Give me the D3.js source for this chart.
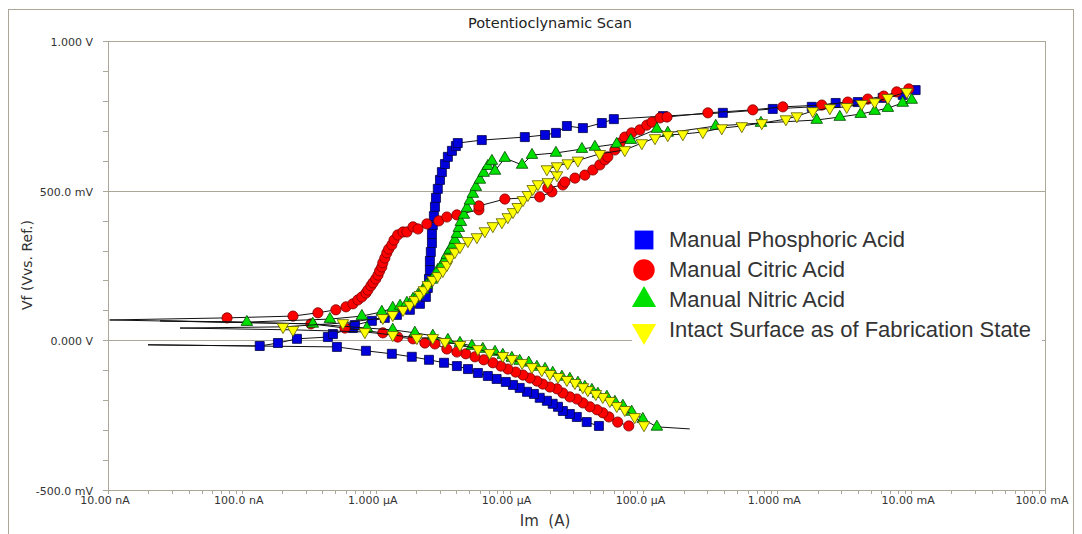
<!DOCTYPE html>
<html>
<head>
<meta charset="utf-8">
<script src="https://cdn.jsdelivr.net/npm/d3@7/dist/d3.min.js"></script>
<style>
  body { margin: 0; background: #fff; }
  svg { display: block; }
  .tick-label { font-family: "DejaVu Sans", sans-serif; font-size: 11px; fill: #333; }
  .legend-label { font-family: "Liberation Sans", Arial, sans-serif; font-size: 22px; fill: #333; }
</style>
</head>
<body>
<div class="chart"></div>
<script>
"use strict";

// Axis ticks
const potTicks = [1, 0.5, 0, -0.5];
const potLabels = ["1.000 V", "500.0 mV", "0.000 V", "-500.0 mV"];
const curTicks = [1e-8, 1e-7, 1e-6, 1e-5, 1e-4, 1e-3, 1e-2, 1e-1];
const curLabels = ["10.00 nA", "100.0 nA", "1.000 µA", "10.00 µA", "100.0 µA", "1.000 mA", "10.00 mA", "100.0 mA"];

const seriesNames = ["Manual Phosphoric Acid", "Manual Citric Acid", "Manual Nitric Acid", "Intact Surface as of Fabrication State"];

// [current (A), potential (V)]
const phosphoricCathodic = [
  [4.65e-5,-0.286],[3.77e-5,-0.273],[3.18e-5,-0.256],[2.82e-5,-0.246],[2.5e-5,-0.236],[2.3e-5,-0.222],
  [2.1e-5,-0.212],[1.9e-5,-0.202],[1.68e-5,-0.192],[1.52e-5,-0.179],[1.35e-5,-0.172],[1.19e-5,-0.159],
  [1.06e-5,-0.149],[9.37e-6,-0.139],[8.0e-6,-0.129],[6.88e-6,-0.119],[5.8e-6,-0.109],[4.89e-6,-0.096],
  [4.04e-6,-0.086],[3.24e-6,-0.075],[2.5e-6,-0.065],[1.86e-6,-0.055],[1.32e-6,-0.045],[8.45e-7,-0.035],
  [5.13e-7,-0.022]
];
const phosphoricTail = [1.99e-8, -0.015];
const phosphoricAnodic = [
  [1.36e-7,-0.019],[1.86e-7,-0.009],[2.58e-7,0.005],[4.39e-7,0.011],[4.79e-7,0.021],[6.75e-7,0.041],
  [6.99e-7,0.051],[9.36e-7,0.065],[1.17e-6,0.075],[1.44e-6,0.085],[1.8e-6,0.102],[2.14e-6,0.122],
  [2.37e-6,0.145],[2.45e-6,0.175],[2.5e-6,0.205],[2.54e-6,0.235],[2.54e-6,0.265],[2.58e-6,0.295],
  [2.63e-6,0.325],[2.63e-6,0.355],[2.67e-6,0.385],[2.72e-6,0.415],[2.77e-6,0.446],[2.82e-6,0.476],
  [2.91e-6,0.506],[3.02e-6,0.536],[3.12e-6,0.562],[3.29e-6,0.589],[3.46e-6,0.613],[3.71e-6,0.633],
  [3.97e-6,0.649],[4.1e-6,0.659],[6.2e-6,0.669],[1.3e-5,0.679],[1.84e-5,0.686],[2.22e-5,0.693],
  [2.68e-5,0.716],[3.53e-5,0.709],[4.89e-5,0.726],[6.01e-5,0.739],[1.4e-4,0.749],[3.92e-4,0.760],
  [9.25e-4,0.773],[1.81e-3,0.780],[2.73e-3,0.793],[3.99e-3,0.796],[6.13e-3,0.810],[8.65e-3,0.820],
  [1.08e-2,0.836]
];

const citricCathodic = [
  [7.77e-5,-0.286],[6.42e-5,-0.273],[5.52e-5,-0.256],[4.97e-5,-0.242],[4.5e-5,-0.232],[3.98e-5,-0.222],
  [3.53e-5,-0.209],[3.18e-5,-0.196],[2.82e-5,-0.189],[2.5e-5,-0.176],[2.26e-5,-0.162],[2.0e-5,-0.156],
  [1.77e-5,-0.146],[1.6e-5,-0.136],[1.42e-5,-0.126],[1.26e-5,-0.116],[1.11e-5,-0.106],[9.7e-6,-0.096],
  [8.6e-6,-0.086],[7.5e-6,-0.075],[6.41e-6,-0.065],[5.51e-6,-0.055],[4.71e-6,-0.045],[4.04e-6,-0.039],
  [3.4e-6,-0.029],[2.77e-6,-0.012],[2.33e-6,-0.009],[1.9e-6,0.005],[1.46e-6,0.011],[1.13e-6,0.025],
  [5.89e-7,0.041],[3.28e-7,0.055]
];
const citricTail = [1.03e-8, 0.068];
const citricAnodic = [
  [7.75e-8,0.075],[2.41e-7,0.081],[3.7e-7,0.092],[5.04e-7,0.102],[6.0e-7,0.112],[6.75e-7,0.122],
  [7.36e-7,0.135],[7.88e-7,0.145],[8.45e-7,0.158],[8.74e-7,0.168],[9.2e-7,0.182],[9.53e-7,0.192],
  [1.0e-6,0.205],[1.04e-6,0.218],[1.07e-6,0.232],[1.11e-6,0.245],[1.13e-6,0.259],[1.17e-6,0.275],
  [1.21e-6,0.292],[1.25e-6,0.305],[1.32e-6,0.319],[1.37e-6,0.335],[1.46e-6,0.352],[1.6e-6,0.362],
  [1.71e-6,0.362],[1.9e-6,0.379],[2.07e-6,0.372],[2.41e-6,0.389],[2.96e-6,0.399],[3.4e-6,0.412],
  [4.04e-6,0.419],[5.9e-6,0.436],[5.9e-6,0.449],[9.22e-6,0.472],[1.68e-5,0.479],[2.07e-5,0.496],
  [1.93e-5,0.509],[2.5e-5,0.519],[2.59e-5,0.529],[3.08e-5,0.542],[3.65e-5,0.552],[4.19e-5,0.569],
  [4.72e-5,0.586],[5.15e-5,0.603],[5.42e-5,0.613],[6.12e-5,0.636],[6.66e-5,0.659],[7.26e-5,0.679],
  [8.17e-5,0.693],[9.4e-5,0.703],[1.06e-4,0.719],[1.16e-4,0.729],[1.33e-4,0.743],[1.5e-4,0.746],
  [3.03e-4,0.760],[6.56e-4,0.770],[1.1e-3,0.780],[2.15e-3,0.786],[3.36e-3,0.796],[4.74e-3,0.806],
  [6.24e-3,0.816],[7.8e-3,0.830],[9.6e-3,0.840]
];

const nitricLead = [2.22e-4, -0.296];
const nitricCathodic = [
  [1.26e-4,-0.289],[9.89e-5,-0.263],[8.17e-5,-0.239],[7.02e-5,-0.219],[6.12e-5,-0.206],[5.33e-5,-0.189],
  [4.57e-5,-0.179],[4.12e-5,-0.166],[3.65e-5,-0.156],[3.24e-5,-0.142],[2.82e-5,-0.129],[2.46e-5,-0.122],
  [2.1e-5,-0.109],[1.84e-5,-0.096],[1.6e-5,-0.089],[1.39e-5,-0.075],[1.19e-5,-0.069],[1.04e-5,-0.059],
  [8.9e-6,-0.049],[7.78e-6,-0.039],[6.31e-6,-0.029],[5.23e-6,-0.019],[4.26e-6,-0.009],[3.46e-6,0.001],
  [2.67e-6,0.015],[1.96e-6,0.025],[1.34e-6,0.035],[8.59e-7,0.041],[3.39e-7,0.055]
];
const nitricTail = [2.45e-8, 0.065];
const nitricAnodic = [
  [1.09e-7,0.061],[4.55e-7,0.071],[7.88e-7,0.081],[1.11e-6,0.095],[1.34e-6,0.108],[1.52e-6,0.115],
  [1.71e-6,0.125],[1.9e-6,0.138],[2.07e-6,0.152],[2.25e-6,0.168],[2.41e-6,0.185],[2.63e-6,0.202],
  [2.77e-6,0.218],[2.91e-6,0.235],[3.12e-6,0.252],[3.29e-6,0.269],[3.4e-6,0.285],[3.58e-6,0.302],
  [3.77e-6,0.319],[3.9e-6,0.335],[4.04e-6,0.355],[4.18e-6,0.375],[4.33e-6,0.395],[4.56e-6,0.419],
  [4.8e-6,0.442],[5.05e-6,0.466],[5.32e-6,0.489],[5.6e-6,0.512],[6.0e-6,0.536],[6.41e-6,0.559],
  [6.88e-6,0.582],[7.38e-6,0.599],[7.78e-6,0.566],[9.22e-6,0.609],[1.24e-5,0.586],[1.47e-5,0.619],
  [2.22e-5,0.626],[3.47e-5,0.639],[4.34e-5,0.646],[6.32e-5,0.656],[8.05e-5,0.669],[1.26e-4,0.706],
  [1.52e-4,0.693],[3.47e-4,0.716],[7.55e-4,0.726],[1.97e-3,0.736],[2.93e-3,0.746],[4.2e-3,0.756],
  [5.34e-3,0.766],[6.7e-3,0.776],[8.65e-3,0.793],[1.01e-2,0.803]
];

const intactCathodic = [
  [1.01e-4,-0.283],[8.6e-5,-0.256],[7.26e-5,-0.232],[6.32e-5,-0.219],[5.61e-5,-0.202],[4.97e-5,-0.189],
  [4.41e-5,-0.179],[3.84e-5,-0.166],[3.53e-5,-0.156],[3.08e-5,-0.142],[2.68e-5,-0.132],[2.3e-5,-0.122],
  [2.0e-5,-0.112],[1.74e-5,-0.099],[1.47e-5,-0.089],[1.24e-5,-0.075],[1.04e-5,-0.062],[8.9e-6,-0.052],
  [7.1e-6,-0.042],[5.8e-6,-0.029],[4.26e-6,-0.015],[3.29e-6,-0.005],[2.67e-6,0.008],[2.03e-6,0.008],
  [1.34e-6,0.018],[8.3e-7,0.028],[2.41e-7,0.035]
];
const intactTail = [3.45e-8, 0.041];
const intactAnodic = [
  [2.03e-7,0.045],[5.69e-7,0.058],[1.13e-6,0.075],[1.34e-6,0.085],[1.6e-6,0.102],[1.8e-6,0.118],
  [1.96e-6,0.135],[2.14e-6,0.152],[2.29e-6,0.168],[2.45e-6,0.185],[2.67e-6,0.202],[2.91e-6,0.215],
  [3.17e-6,0.232],[3.4e-6,0.252],[3.58e-6,0.275],[3.9e-6,0.295],[4.26e-6,0.312],[4.88e-6,0.332],
  [5.7e-6,0.345],[6.54e-6,0.365],[7.5e-6,0.382],[8.76e-6,0.395],[9.7e-6,0.412],[1.06e-5,0.429],
  [1.15e-5,0.446],[1.26e-5,0.469],[1.37e-5,0.486],[1.49e-5,0.506],[1.63e-5,0.522],[1.93e-5,0.529],
  [2.26e-5,0.552],[1.9e-5,0.572],[2.26e-5,0.582],[2.72e-5,0.592],[3.24e-5,0.601],[4.72e-5,0.623],
  [7.26e-5,0.636],[9.73e-5,0.659],[1.22e-4,0.676],[1.52e-4,0.686],[1.97e-4,0.689],[2.78e-4,0.696],
  [3.85e-4,0.709],[5.43e-4,0.716],[7.66e-4,0.726],[1.16e-3,0.739],[1.4e-3,0.749],[1.84e-3,0.766],
  [2.47e-3,0.776],[3.3e-3,0.780],[4.28e-3,0.790],[5.34e-3,0.796],[6.7e-3,0.810],[9.28e-3,0.830]
];

function ready(){
  const width = 1082, height = 534;
  const plot = {left: 108, right: 1045, top: 41, bottom: 490};
  const gridColor = "#aca899";

  const svg = d3.select('.chart')
    .append('svg')
    .attr('width', width)
    .attr('height', height);

  const xScale = d3.scaleLog()
    .domain([1e-8, 1e-1])
    .range([plot.left, plot.right]);

  const yScale = d3.scaleLinear()
    .domain([-0.5, 1])
    .range([plot.bottom, plot.top]);

  // outer frame
  svg.append('rect')
    .attr('x', 8.5).attr('y', 9.5)
    .attr('width', 1065).attr('height', 540)
    .attr('fill', 'none')
    .attr('stroke', gridColor);

  // title
  svg.append('text')
    .attr('x', 550).attr('y', 28)
    .attr('text-anchor', 'middle')
    .style('font-family', '"DejaVu Sans", sans-serif')
    .style('font-size', '14.5px')
    .style('fill', '#222')
    .text('Potentioclynamic Scan');

  // gridlines
  svg.selectAll('.grid')
    .data([0.5, 0])
    .enter()
    .append('line')
    .attr('class', 'grid')
    .attr('x1', plot.left).attr('x2', plot.right)
    .attr('y1', d => Math.round(yScale(d)) + 0.5)
    .attr('y2', d => Math.round(yScale(d)) + 0.5)
    .attr('stroke', gridColor);

  // plot frame
  svg.append('rect')
    .attr('x', plot.left + 0.5).attr('y', plot.top + 0.5)
    .attr('width', plot.right - plot.left).attr('height', plot.bottom - plot.top)
    .attr('fill', 'none')
    .attr('stroke', gridColor);

  // y ticks every 100 mV
  const yMinor = d3.range(-5, 11).map(i => i / 10);
  svg.selectAll('.ytick')
    .data(yMinor)
    .enter()
    .append('line')
    .attr('class', 'ytick')
    .attr('x1', plot.left - 5).attr('x2', plot.left)
    .attr('y1', d => Math.round(yScale(d)) + 0.5)
    .attr('y2', d => Math.round(yScale(d)) + 0.5)
    .attr('stroke', gridColor);

  svg.selectAll('.ylabel')
    .data(potTicks)
    .enter()
    .append('text')
    .attr('class', 'tick-label')
    .attr('x', 93)
    .attr('y', d => yScale(d) + 2)
    .attr('text-anchor', 'end')
    .attr('dominant-baseline', 'middle')
    .text((d, i) => potLabels[i]);

  // x ticks: decades and 2..9 minors
  const xMinor = [];
  curTicks.forEach((t, i) => {
    xMinor.push(t);
    if (i < curTicks.length - 1) d3.range(2, 10).forEach(k => xMinor.push(t * k));
  });
  svg.selectAll('.xtick')
    .data(xMinor)
    .enter()
    .append('line')
    .attr('class', 'xtick')
    .attr('x1', d => Math.round(xScale(d)) + 0.5)
    .attr('x2', d => Math.round(xScale(d)) + 0.5)
    .attr('y1', plot.bottom).attr('y2', plot.bottom + 4)
    .attr('stroke', gridColor);

  svg.selectAll('.xlabel')
    .data(curTicks)
    .enter()
    .append('text')
    .attr('class', 'tick-label')
    .attr('x', d => xScale(d) - 3)
    .attr('y', plot.bottom + 11)
    .attr('text-anchor', 'middle')
    .attr('dominant-baseline', 'middle')
    .text((d, i) => curLabels[i]);

  // axis titles
  svg.append('text')
    .attr('x', 545).attr('y', 526)
    .attr('text-anchor', 'middle')
    .attr('xml:space', 'preserve')
    .style('font-family', '"DejaVu Sans", sans-serif')
    .style('font-size', '15px')
    .style('fill', '#333')
    .style('white-space', 'pre')
    .text('Im  (A)');

  svg.append('text')
    .attr('transform', 'translate(32, 265) rotate(-90)')
    .attr('text-anchor', 'middle')
    .style('font-family', '"DejaVu Sans", sans-serif')
    .style('font-size', '14px')
    .style('fill', '#333')
    .text('Vf (Vvs. Ref.)');

  // series
  const series = [
    {name: seriesNames[0], lead: null, cathodic: phosphoricCathodic, tail: phosphoricTail, anodic: phosphoricAnodic,
      shape: d3.symbolSquare, size: 81, rotate: 0, fill: '#0000dd', stroke: '#00004a'},
    {name: seriesNames[1], lead: null, cathodic: citricCathodic, tail: citricTail, anodic: citricAnodic,
      shape: d3.symbolCircle, size: 82, rotate: 0, fill: '#ff0000', stroke: '#7a0000'},
    {name: seriesNames[2], lead: nitricLead, cathodic: nitricCathodic, tail: nitricTail, anodic: nitricAnodic,
      shape: d3.symbolTriangle, size: 58, rotate: 0, fill: '#00e000', stroke: '#004a00'},
    {name: seriesNames[3], lead: null, cathodic: intactCathodic, tail: intactTail, anodic: intactAnodic,
      shape: d3.symbolTriangle, size: 58, rotate: 180, fill: '#ffff00', stroke: '#5a5a00'}
  ];

  const line = d3.line()
    .x(d => xScale(d[0]))
    .y(d => yScale(d[1]));

  series.forEach((s, si) => {
    const linePts = (s.lead ? [s.lead] : []).concat(s.cathodic, [s.tail], s.anodic);
    svg.append('path')
      .datum(linePts)
      .attr('d', line)
      .attr('fill', 'none')
      .attr('stroke', '#111')
      .attr('stroke-width', 1);

    svg.selectAll('.mark' + si)
      .data(s.cathodic.concat(s.anodic))
      .enter()
      .append('path')
      .attr('class', 'mark' + si)
      .attr('d', d3.symbol().type(s.shape).size(s.size))
      .attr('transform', d => `translate(${xScale(d[0])}, ${yScale(d[1])}) rotate(${s.rotate})`)
      .attr('fill', s.fill)
      .attr('stroke', s.stroke)
      .attr('stroke-width', 0.8);
  });

  // legend
  const legend = svg.append('g');
  legend.append('rect')
    .attr('x', 632).attr('y', 224)
    .attr('width', 410).attr('height', 122)
    .attr('fill', '#fff');

  const rowY = d3.scalePoint()
    .domain(seriesNames)
    .range([240, 330]);

  series.forEach(s => {
    legend.append('path')
      .attr('d', d3.symbol().type(s.shape).size(s.size * 4.4))
      .attr('transform', `translate(644, ${rowY(s.name) + (s.rotate ? 1 : 0)}) rotate(${s.rotate})`)
      .attr('fill', s.fill === '#0000dd' ? '#0000ff' : s.fill)
      .attr('stroke', 'none');
    legend.append('text')
      .attr('class', 'legend-label')
      .attr('x', 669)
      .attr('y', rowY(s.name) + 1)
      .attr('dominant-baseline', 'middle')
      .text(s.name);
  });
}

ready();
</script>
</body>
</html>
